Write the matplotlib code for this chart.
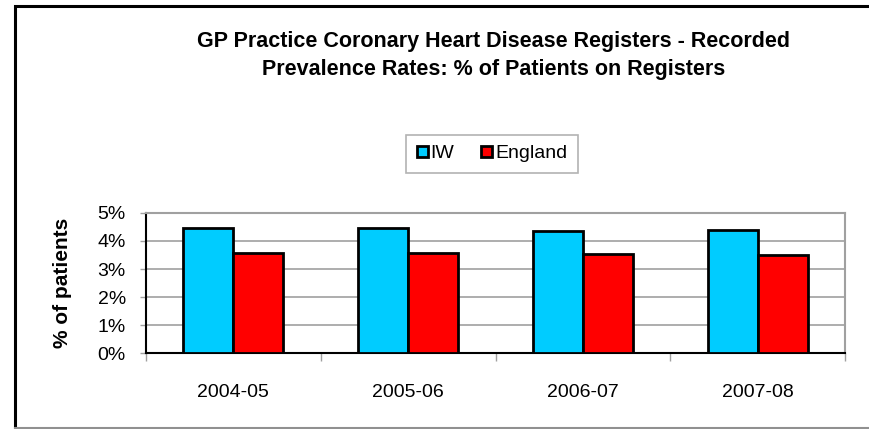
import numpy as np
import matplotlib.pyplot as plt
from matplotlib.patches import Rectangle

years = ['2004-05', '2005-06', '2006-07', '2007-08']
iw = [4.45, 4.45, 4.36, 4.39]
england = [3.58, 3.57, 3.55, 3.51]

plt.rcParams['font.family'] = ['Liberation Sans', 'DejaVu Sans']

fig = plt.figure(figsize=(8.7, 4.29), dpi=100)
W, H = 870, 429

# outer chart border
fig.patches.append(Rectangle((15 / W, 0.5 / H), 1.0, (H - 6.5) / H, transform=fig.transFigure,
                             fill=False, edgecolor='black', linewidth=2.2))
fig.add_artist(plt.Line2D([15 / W, 1], [1.2 / H, 1.2 / H], transform=fig.transFigure,
                          color='#909090', linewidth=1.5))

ax = fig.add_axes([146 / W, 1 - 353 / H, (845 - 146) / W, (353 - 213) / H])

x = np.arange(len(years))
w = 0.286
ax.bar(x - w / 2, iw, w, color='#00ccff', edgecolor='black', linewidth=2, label='IW', zorder=3)
ax.bar(x + w / 2, england, w, color='#ff0000', edgecolor='black', linewidth=2, label='England', zorder=3)

ax.set_xlim(-0.5, len(years) - 0.5)
ax.set_ylim(0, 5)
ax.set_yticks(range(6))
ax.set_yticklabels([f'{v}%' for v in range(6)], fontsize=14)
ax.yaxis.grid(True, color='#a0a0a0', linewidth=1.2, zorder=0)

ax.set_xticks(x)
ax.set_xticklabels(years, fontsize=14)
ax.tick_params(axis='x', length=0, pad=22)
ax.set_xticks(np.arange(-0.5, len(years)), minor=True)
ax.tick_params(axis='x', which='minor', length=6, color='#a0a0a0', width=1)
ax.tick_params(axis='y', length=4.5, color='#a0a0a0', width=1, pad=10)

for side in ['top', 'right']:
    ax.spines[side].set_color('#a0a0a0')
    ax.spines[side].set_linewidth(1.5)
for side in ['left', 'bottom']:
    ax.spines[side].set_color('black')
    ax.spines[side].set_linewidth(1.5)

ax.set_ylabel('% of patients', fontsize=15, fontweight='bold', labelpad=18)

fig.text(494 / W, 1 - 42 / H, 'GP Practice Coronary Heart Disease Registers - Recorded',
         ha='center', va='center', fontsize=15.5, fontweight='bold')
fig.text(494 / W, 1 - 70 / H, 'Prevalence Rates: % of Patients on Registers',
         ha='center', va='center', fontsize=15.5, fontweight='bold')

leg = fig.legend(loc='center', bbox_to_anchor=(492 / W, 1 - 154 / H), ncol=2, fontsize=14,
                 frameon=True, fancybox=False, edgecolor='#a0a0a0', handlelength=0.55,
                 handleheight=0.55, handletextpad=0.15, columnspacing=1.4, borderpad=0.55,
                 borderaxespad=0)
leg.get_frame().set_linewidth(1.2)
for h in leg.legend_handles:
    h.set_linewidth(2)

fig.savefig('out.png', dpi=100)
